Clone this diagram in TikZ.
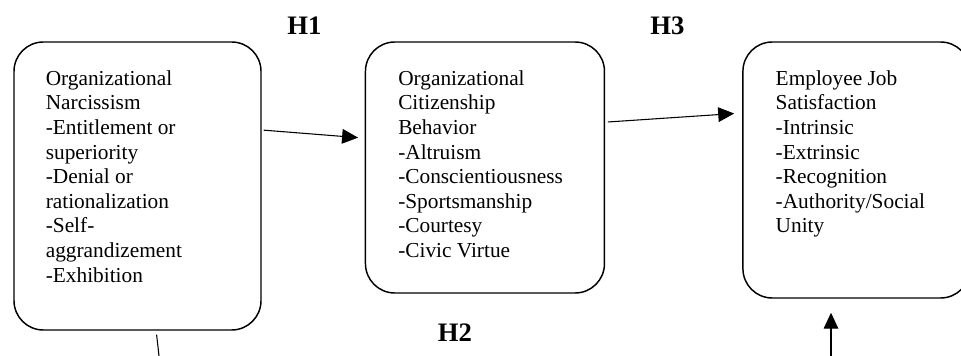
\documentclass[tikz,border=0pt]{standalone}
\usepackage{fontspec}
\setmainfont{Liberation Serif}
\usetikzlibrary{arrows.meta}
\usetikzlibrary{positioning}

\begin{document}
\begin{tikzpicture}[x=0.75pt,y=-0.75pt,->,>={Triangle[length=12pt,width=11pt]},line width=0.8pt]
	\tikzstyle{stage}=[draw, rectangle, rounded corners=22pt, line width=1.1pt, inner sep=0pt]
	\tikzstyle{items}=[align=left, inner sep=0pt, font=\fontsize{16pt}{18.45pt}\selectfont]
	\tikzstyle{hyp}=[inner sep=0pt, font=\fontsize{20pt}{24pt}\selectfont\bfseries]
	\useasboundingbox (0,0) rectangle (961,356);

	% the three constructs
	\node[stage, minimum width=185.25pt, minimum height=216pt] (narc) at (137.5,186) {};
	\node[stage, minimum width=179.25pt, minimum height=188.25pt] (ocb) [right=77.25pt of narc.north east, anchor=north west] {};
	\node[stage, minimum width=170.25pt, minimum height=192pt] (jobsat) [right=102.75pt of ocb.north east, anchor=north west] {};

	\node[items, below right=21.5pt and 24pt of narc.north west] (narctext)
		{Organizational\\Narcissism\\-Entitlement or\\superiority\\-Denial or\\rationalization\\-Self-\\aggrandizement\\-Exhibition};
	\node[items, below right=21.5pt and 24.75pt of ocb.north west] (ocbtext)
		{Organizational\\Citizenship\\Behavior\\-Altruism\\-Conscientiousness\\-Sportsmanship\\-Courtesy\\-Civic Virtue};
	\node[items, below right=21.5pt and 24.75pt of jobsat.north west] (jobsattext)
		{Employee Job\\Satisfaction\\-Intrinsic\\-Extrinsic\\-Recognition\\-Authority/Social\\Unity};

	% hypotheses
	\node[hyp] (h1) at (304.5,26) {H1};
	\node[hyp] (h3) at (667.5,26) {H3};
	\node[hyp] (h2) at (455,333) {H2};

	\coordinate (narcout) at (159,356);
	\coordinate (jobsatin) at (831,356);

	\draw[shorten <=1.5pt,shorten >=5pt] ([yshift=42pt]narc.east) -- ([yshift=22pt]ocb.west);
	\draw[shorten <=2pt,shorten >=6pt] ([yshift=34pt]ocb.east) -- ([yshift=42.75pt]jobsat.west);
	\draw[-,shorten <=3pt] ([xshift=14pt]narc.south) -- (narcout);
	\draw[shorten >=10.5pt] (jobsatin) -- (jobsat.south -| jobsatin);
\end{tikzpicture}
\end{document}
